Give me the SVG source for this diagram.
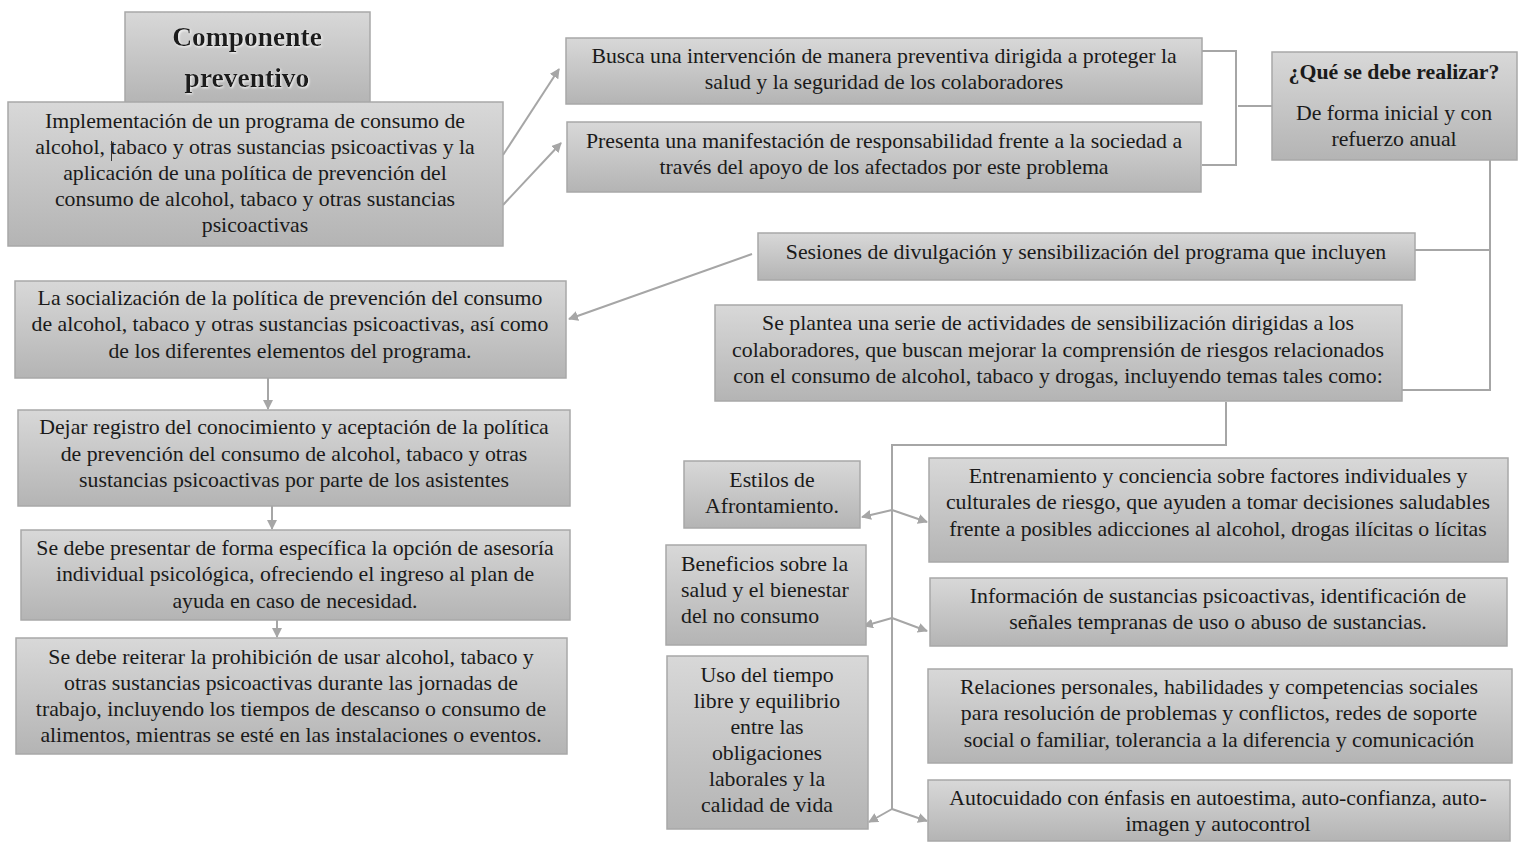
<svg xmlns="http://www.w3.org/2000/svg" width="1518" height="842" viewBox="0 0 1518 842">
<defs>
<linearGradient id="g" x1="0" y1="0" x2="0" y2="1">
<stop offset="0" stop-color="#d8d8d8"/>
<stop offset="1" stop-color="#b4b4b4"/>
</linearGradient>
<marker id="ah" viewBox="0 0 10 10" refX="9" refY="5" markerWidth="5" markerHeight="5" orient="auto" markerUnits="strokeWidth">
<path d="M0,0 L10,5 L0,10 z" fill="#a6a6a6"/>
</marker>
<filter id="glow" x="-10%" y="-20%" width="120%" height="140%">
<feDropShadow dx="1" dy="1" stdDeviation="1" flood-color="#ffffff" flood-opacity="0.9"/>
</filter>
</defs>
<style>
.box{fill:url(#g);stroke:#a8a8a8;stroke-width:1.5}
.t text{font-size:21.8px;fill:#1a1a1a;text-anchor:middle}
.t .b{font-weight:bold}
.t .h{font-size:27.5px}
.t .l{text-anchor:start}
.c{fill:none;stroke:#a6a6a6;stroke-width:2}
.a{marker-end:url(#ah)}
</style>
<rect width="1518" height="842" fill="#ffffff"/>
<g id="connectors">
<line class="c a" x1="503" y1="155" x2="559" y2="69"/>
<line class="c a" x1="503" y1="205" x2="561" y2="143"/>
<polyline class="c" points="1202,51 1236,51 1236,165 1202,165"/>
<line class="c" x1="1238" y1="106" x2="1272" y2="106"/>
<polyline class="c" points="1490,160 1490,390 1402,390"/>
<line class="c" x1="1415" y1="250" x2="1490" y2="250"/>
<line class="c a" x1="752" y1="254" x2="569" y2="319"/>
<line class="c a" x1="268" y1="378" x2="268" y2="409"/>
<line class="c a" x1="272" y1="506" x2="272" y2="529"/>
<line class="c a" x1="277" y1="620" x2="277" y2="637"/>
<polyline class="c" points="1226,402 1226,445 892,445 892,809"/>
<line class="c a" x1="892" y1="510" x2="862" y2="517"/>
<line class="c a" x1="892" y1="510" x2="927" y2="522"/>
<line class="c a" x1="892" y1="618" x2="864" y2="626"/>
<line class="c a" x1="892" y1="618" x2="927" y2="631"/>
<line class="c a" x1="892" y1="809" x2="869" y2="822"/>
<line class="c a" x1="892" y1="809" x2="927" y2="821"/>
</g>
<g class="t" font-family="'Liberation Serif', 'Times New Roman', serif">
<g id="titulo">
<rect class="box" x="125" y="12" width="245" height="92"/>
<text class="b h" x="247" y="46" filter="url(#glow)">Componente</text>
<text class="b h" x="247" y="87" filter="url(#glow)">preventivo</text>
</g>
<g id="implementacion">
<rect class="box" x="8" y="102" width="495" height="144"/>
<text x="255" y="128">Implementación de un programa de consumo de</text>
<text x="255" y="154">alcohol, tabaco y otras sustancias psicoactivas y la</text>
<text x="255" y="180">aplicación de una política de prevención del</text>
<text x="255" y="206">consumo de alcohol, tabaco y otras sustancias</text>
<text x="255" y="232">psicoactivas</text>
<line x1="111.5" y1="141" x2="111.5" y2="161" stroke="#333" stroke-width="1"/>
</g>
<g id="busca">
<rect class="box" x="566" y="38" width="636" height="66"/>
<text x="884" y="63">Busca una intervención de manera preventiva dirigida a proteger la</text>
<text x="884" y="89">salud y la seguridad de los colaboradores</text>
</g>
<g id="presenta">
<rect class="box" x="567" y="122" width="634" height="70"/>
<text x="884" y="148">Presenta una manifestación de responsabilidad frente a la sociedad a</text>
<text x="884" y="174">través del apoyo de los afectados por este problema</text>
</g>
<g id="que">
<rect class="box" x="1272" y="52" width="245" height="108"/>
<text class="b" x="1394" y="79">¿Qué se debe realizar?</text>
<text x="1394" y="120">De forma inicial y con</text>
<text x="1394" y="146">refuerzo anual</text>
</g>
<g id="sesiones">
<rect class="box" x="758" y="233" width="657" height="47"/>
<text x="1086" y="259">Sesiones de divulgación y sensibilización del programa que incluyen</text>
</g>
<g id="socializacion">
<rect class="box" x="15" y="281" width="551" height="97"/>
<text x="290" y="305">La socialización de la política de prevención del consumo</text>
<text x="290" y="331">de alcohol, tabaco y otras sustancias psicoactivas, así como</text>
<text x="290" y="358">de los diferentes elementos del programa.</text>
</g>
<g id="registro">
<rect class="box" x="18" y="410" width="552" height="96"/>
<text x="294" y="434">Dejar registro del conocimiento y aceptación de la política</text>
<text x="294" y="461">de prevención del consumo de alcohol, tabaco y otras</text>
<text x="294" y="487">sustancias psicoactivas por parte de los asistentes</text>
</g>
<g id="asesoria">
<rect class="box" x="21" y="530" width="549" height="90"/>
<text x="295" y="555">Se debe presentar de forma específica la opción de asesoría</text>
<text x="295" y="581">individual psicológica, ofreciendo el ingreso al plan de</text>
<text x="295" y="608">ayuda en caso de necesidad.</text>
</g>
<g id="reiterar">
<rect class="box" x="16" y="638" width="551" height="116"/>
<text x="291" y="664">Se debe reiterar la prohibición de usar alcohol, tabaco y</text>
<text x="291" y="690">otras sustancias psicoactivas durante las jornadas de</text>
<text x="291" y="716">trabajo, incluyendo los tiempos de descanso o consumo de</text>
<text x="291" y="742">alimentos, mientras se esté en las instalaciones o eventos.</text>
</g>
<g id="plantea">
<rect class="box" x="715" y="305" width="687" height="96"/>
<text x="1058" y="330">Se plantea una serie de actividades de sensibilización dirigidas a los</text>
<text x="1058" y="357">colaboradores, que buscan mejorar la comprensión de riesgos relacionados</text>
<text x="1058" y="383">con el consumo de alcohol, tabaco y drogas, incluyendo temas tales como:</text>
</g>
<g id="estilos">
<rect class="box" x="684" y="461" width="176" height="67"/>
<text x="772" y="487">Estilos de</text>
<text x="772" y="513">Afrontamiento.</text>
</g>
<g id="beneficios">
<rect class="box" x="666" y="545" width="200" height="100"/>
<text class="l" x="681" y="571">Beneficios sobre la</text>
<text class="l" x="681" y="597">salud y el bienestar</text>
<text class="l" x="681" y="623">del no consumo</text>
</g>
<g id="uso">
<rect class="box" x="667" y="656" width="201" height="173"/>
<text x="767" y="682">Uso del tiempo</text>
<text x="767" y="708">libre y equilibrio</text>
<text x="767" y="734">entre las</text>
<text x="767" y="760">obligaciones</text>
<text x="767" y="786">laborales y la</text>
<text x="767" y="812">calidad de vida</text>
</g>
<g id="entrenamiento">
<rect class="box" x="929" y="458" width="579" height="104"/>
<text x="1218" y="483">Entrenamiento y conciencia sobre factores individuales y</text>
<text x="1218" y="509">culturales de riesgo, que ayuden a tomar decisiones saludables</text>
<text x="1218" y="536">frente a posibles adicciones al alcohol, drogas ilícitas o lícitas</text>
</g>
<g id="informacion">
<rect class="box" x="930" y="578" width="577" height="68"/>
<text x="1218" y="603">Información de sustancias psicoactivas, identificación de</text>
<text x="1218" y="629">señales tempranas de uso o abuso de sustancias.</text>
</g>
<g id="relaciones">
<rect class="box" x="928" y="669" width="584" height="94"/>
<text x="1219" y="694">Relaciones personales, habilidades y competencias sociales</text>
<text x="1219" y="720">para resolución de problemas y conflictos, redes de soporte</text>
<text x="1219" y="747">social o familiar, tolerancia a la diferencia y comunicación</text>
</g>
<g id="autocuidado">
<rect class="box" x="928" y="780" width="582" height="61"/>
<text x="1218" y="805">Autocuidado con énfasis en autoestima, auto-confianza, auto-</text>
<text x="1218" y="831">imagen y autocontrol</text>
</g>
</g>
</svg>
